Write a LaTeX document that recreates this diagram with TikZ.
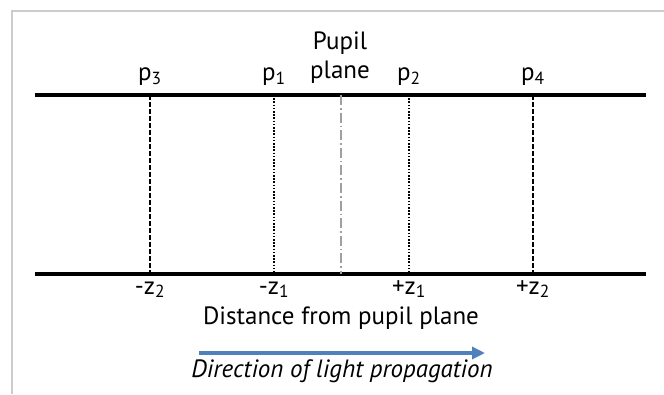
\documentclass[tikz,border=0pt]{standalone}
\usepackage{fontspec}
\setmainfont{PT Sans}
\usepackage{tikz}
\usetikzlibrary{arrows.meta}
\definecolor{lightblue}{HTML}{4F81BD}
\tikzset{
  farplane/.style={line width=2pt,dash pattern=on 5pt off 2pt},
  nearplane/.style={line width=2pt,dash pattern=on 1.6pt off 1.6pt},
  pupilplane/.style={line width=1.8pt,gray!75,dash pattern=on 10pt off 3pt on 1.6pt off 3pt},
  axis/.style={line width=3.2pt},
  lab/.style={anchor=base,inner sep=0pt}
}
\begin{document}
\begin{tikzpicture}[x=1pt,y=1pt,font=\fontsize{25}{29}\selectfont]
\useasboundingbox (0,0) rectangle (664,394);
\draw[gray!40,line width=2pt] (12,0)--(12,383)--(664,383);
\coordinate (tl) at (35,299); \coordinate (tr) at (646,299);
\coordinate (bl) at (35,120); \coordinate (br) at (646,120);
\draw[axis] (tl)--(tr); \draw[axis] (bl)--(br);
\foreach \nm/\x/\sty/\plab/\zlab in {p3/150/farplane/p\textsubscript{3}/-z\textsubscript{2},
  p1/274/nearplane/p\textsubscript{1}/-z\textsubscript{1},
  p2/409/nearplane/p\textsubscript{2}/+z\textsubscript{1},
  p4/533/farplane/p\textsubscript{4}/+z\textsubscript{2}} {
  \coordinate (\nm t) at (\x,299); \coordinate (\nm b) at (\x,120);
  \draw[\sty] (\nm t)--(\nm b);
  \node[lab] (\nm lab) at (\x,313) {\plab};
  \node[lab] (\nm z) at (\x,100) {\zlab};
}
\coordinate (pupt) at (341,299); \coordinate (pupb) at (341,120);
\draw[pupilplane] (pupt)--(pupb);
\node[anchor=south,inner sep=0pt,align=center] (pupil) at (340,310) {Pupil\\plane};
\node[lab] (dist) at (341,70) {Distance from pupil plane};
\coordinate (arrs) at (199,41); \coordinate (arre) at (485,41);
\draw[lightblue,line width=4pt,-{Triangle[length=13pt,width=12pt]}] (arrs)--(arre);
\node[lab] (dir) at (342,17) {\itshape Direction of light propagation};
\end{tikzpicture}
\end{document}
